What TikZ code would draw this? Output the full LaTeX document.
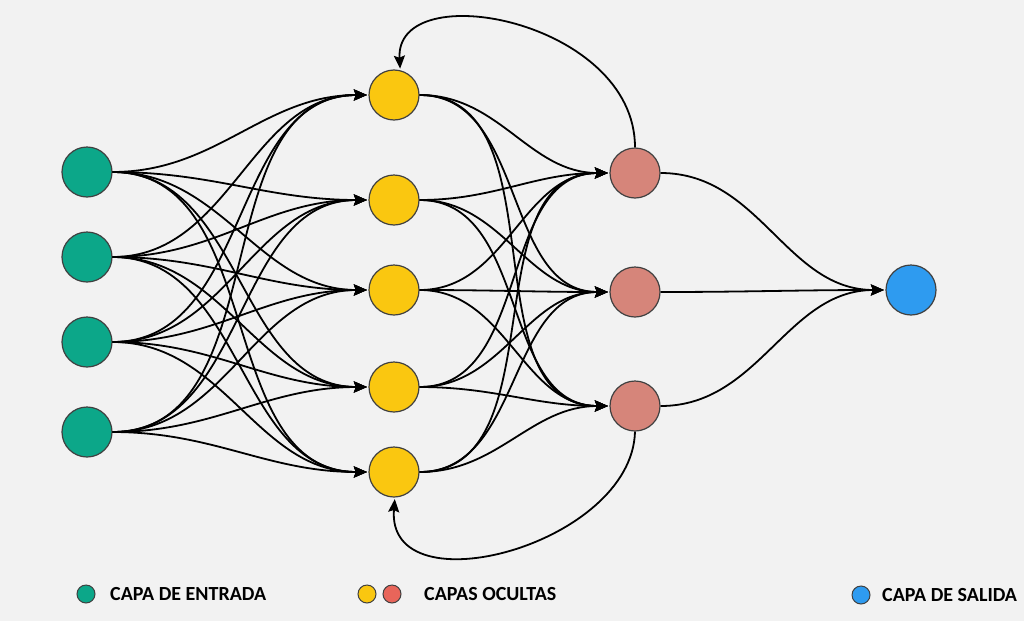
\documentclass[tikz,border=0pt]{standalone}
\usepackage{fontspec}
\setmainfont{Carlito}
\usetikzlibrary{arrows.meta}
\definecolor{bg}{HTML}{F2F2F2}
\definecolor{cin}{HTML}{0CA789}
\definecolor{chid}{HTML}{FAC710}
\definecolor{chidb}{HTML}{D6857A}
\definecolor{cleg}{HTML}{E8655A}
\definecolor{cout}{HTML}{2E9BF0}
\definecolor{edgecol}{HTML}{404040}
\tikzset{
  neuron/.style={circle,draw=edgecol,line width=1.2pt,minimum size=50pt,inner sep=0pt},
  legdot/.style={circle,draw=edgecol,line width=1pt,minimum size=18pt,inner sep=0pt},
  conn/.style={line width=1.8pt,-{Stealth[length=13pt,width=11pt,inset=2pt]},shorten >=1.5pt},
  legtext/.style={anchor=west,inner sep=0pt,font=\fontsize{20}{22}\selectfont\bfseries}
}
\begin{document}
\begin{tikzpicture}[x=1pt,y=-1pt]
\fill[bg] (0,0) rectangle (1024,621);
\useasboundingbox (0,0) rectangle (1024,621);
% nodes
\node[neuron,fill=cin] (i1) at (87,172) {};
\node[neuron,fill=cin] (i2) at (87,257) {};
\node[neuron,fill=cin] (i3) at (87,342) {};
\node[neuron,fill=cin] (i4) at (87,432) {};
\node[neuron,fill=chid] (h1) at (394,95) {};
\node[neuron,fill=chid] (h2) at (394,200) {};
\node[neuron,fill=chid] (h3) at (394,290) {};
\node[neuron,fill=chid] (h4) at (394,387) {};
\node[neuron,fill=chid] (h5) at (394,472) {};
\node[neuron,fill=chidb] (o1) at (635,173) {};
\node[neuron,fill=chidb] (o2) at (635,292) {};
\node[neuron,fill=chidb] (o3) at (635,406) {};
\node[neuron,fill=cout] (out) at (911,290) {};
% connections
\foreach \a in {1,...,4}{
  \foreach \b in {1,...,5}{
    \draw[conn] (i\a.east) to[out=0,in=180] (h\b.west);
  }
}
\foreach \a in {1,...,5}{
  \foreach \b in {1,...,3}{
    \draw[conn] (h\a.east) to[out=0,in=180] (o\b.west);
  }
}
\foreach \b in {1,...,3}{
  \draw[conn] (o\b.east) to[out=0,in=180] (out.west);
}
% feedback
\draw[conn] (o1.north) .. controls (635,20) and (395,-25) .. (h1.76);
\draw[conn] (o3.south) .. controls (632,545) and (386,610) .. (h5.-88);
% legend
\node[legdot,fill=cin] (l1) at (86,594) {};
\node[legtext] (t1) at (110,594) {CAPA DE ENTRADA};
\node[legdot,fill=chid] (l2) at (367,594) {};
\node[legdot,fill=cleg] (l3) at (392,594) {};
\node[legtext] (t2) at (424,594) {CAPAS OCULTAS};
\node[legdot,fill=cout] (l4) at (861,595) {};
\node[legtext] (t3) at (882,595) {CAPA DE SALIDA};
\end{tikzpicture}
\end{document}
